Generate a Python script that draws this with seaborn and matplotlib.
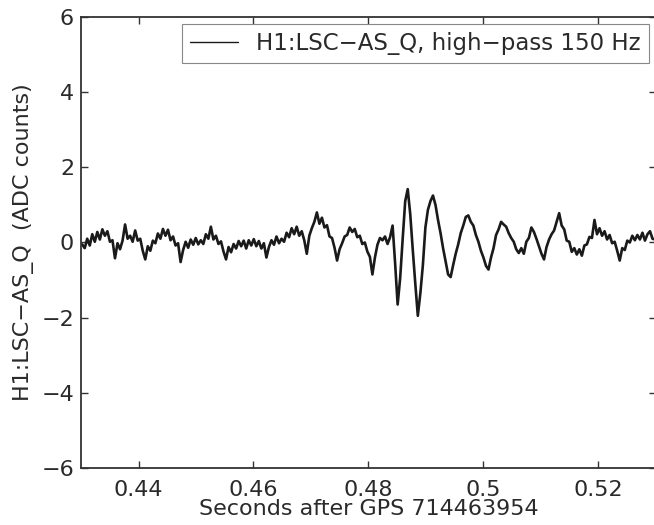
import numpy as np
import pandas as pd
import matplotlib
matplotlib.use("Agg")
import matplotlib.pyplot as plt
import seaborn as sns

T0 = 0.4302
DT = 0.000439

quiet_before = [
    -0.05,
    -0.15, 0.10, -0.08, 0.22, 0.02, 0.28, 0.08, 0.35, 0.18, 0.30,
    0.02, 0.06, -0.42, -0.02, -0.18, 0.05, 0.48, 0.10, 0.18, 0.02,
    0.32, 0.05, 0.10, -0.22, -0.45, -0.10, -0.22, 0.05, -0.02, 0.24,
    0.10, 0.36, 0.18, 0.34, 0.06, 0.16, -0.08, -0.02, -0.52, -0.20,
    0.02, -0.14, 0.08, -0.06, 0.12, -0.05, 0.06, -0.04, 0.22, 0.10,
    0.42, 0.08, 0.18, -0.04, 0.03, -0.24, -0.45, -0.12, -0.26, -0.04,
    -0.16, 0.04, -0.10, 0.05, -0.16, 0.06, -0.08, 0.09, -0.10, 0.04,
    -0.16, -0.02, -0.40, -0.12, 0.06, -0.06, 0.16, -0.02, 0.10, 0.02,
    0.26, 0.14, 0.38, 0.22, 0.42, 0.18, 0.30, 0.06, -0.30, 0.18,
    0.38, 0.55, 0.80, 0.50, 0.66, 0.40, 0.46, 0.16, 0.12, -0.14,
    -0.48, -0.18, -0.02, 0.16, 0.20, 0.40, 0.28, 0.36, 0.14, 0.18,
    -0.04, 0.00, -0.24, -0.38, -0.85, -0.40, -0.06, 0.12, 0.06, 0.16,
]

burst = [
    -0.04, 0.14, 0.45, -0.55, -1.65, -0.95, 0.10, 1.10, 1.42, 0.75,
    -0.20, -1.10, -1.95, -1.35, -0.60, 0.40, 0.87, 1.10, 1.25, 1.00,
    0.60, 0.25, -0.15, -0.50, -0.85, -0.92, -0.60, -0.30, -0.05, 0.25,
    0.45, 0.68, 0.72, 0.55, 0.45, 0.20, 0.02, -0.22, -0.40, -0.62,
    -0.72, -0.40, -0.15, 0.20, 0.35, 0.55, 0.48, 0.42, 0.25, 0.12,
]

quiet_after = [
    0.02, -0.18, -0.28, -0.15, -0.30, 0.02, 0.12, 0.40, 0.28, 0.10,
    -0.10, -0.30, -0.45, -0.12, 0.08, 0.22, 0.32, 0.55, 0.78, 0.45,
    0.35, 0.05, 0.02, -0.25, -0.15, -0.32, -0.18, -0.35, -0.08, -0.05,
    0.15, 0.12, 0.60, 0.22, 0.38, 0.18, 0.30, 0.08, 0.20, -0.02,
    0.02, -0.22, -0.48, -0.15, -0.20, 0.05, 0.00, 0.18, 0.06, 0.20,
    0.08, 0.26, 0.05, 0.22, 0.30, 0.10, 0.08,
]

xticks = [0.44, 0.46, 0.48, 0.5, 0.52]
xtick_labels = ["0.44", "0.46", "0.48", "0.5", "0.52"]
yticks = [-6, -4, -2, 0, 2, 4, 6]
ytick_labels = ["\u22126", "\u22124", "\u22122", "0", "2", "4", "6"]

vals = quiet_before + burst + quiet_after
df = pd.DataFrame({"t": T0 + DT * np.arange(len(vals)), "v": vals})

sns.set_style("ticks")
plt.rcParams["font.family"] = ["DejaVu Sans"]

fig = plt.figure(figsize=(6.54, 5.25), dpi=100)
ax = fig.add_axes([0.1239, 0.1086, 0.879, 0.859])

sns.lineplot(data=df, x="t", y="v", ax=ax, color="#1a1a1a", linewidth=1.9,
             estimator=None, sort=False,
             label="H1:LSC\u2212AS_Q, high\u2212pass 150 Hz")

ax.set_xlim(0.43, 0.53)
ax.set_ylim(-6, 6)
ax.set_xticks(xticks)
ax.set_xticklabels(xtick_labels)
ax.set_yticks(yticks)
ax.set_yticklabels(ytick_labels)

for s in ax.spines.values():
    s.set_color("#333333")
    s.set_linewidth(1.3)

ax.tick_params(direction="in", length=5, width=1, top=True, right=True,
               labelsize=16, colors="#333333", labelcolor="#2a2a2a")
ax.tick_params(axis="x", pad=9)
ax.tick_params(axis="y", pad=5)

ax.set_xlabel("Seconds after GPS 714463954", fontsize=16, color="#2a2a2a",
              labelpad=-1)
ax.set_ylabel("H1:LSC\u2212AS_Q  (ADC counts)", fontsize=16, color="#2a2a2a",
              labelpad=5)

leg = ax.legend(loc="upper right", fontsize=16.5, frameon=True, fancybox=False,
                framealpha=1, borderaxespad=0.3, borderpad=0.35,
                handlelength=2.1, handletextpad=0.8, labelcolor="#2a2a2a")
leg.get_frame().set_edgecolor("#888888")
leg.get_frame().set_linewidth(0.8)
for h in leg.get_lines():
    h.set_linewidth(1.0)

fig.savefig("out.png", dpi=100)
